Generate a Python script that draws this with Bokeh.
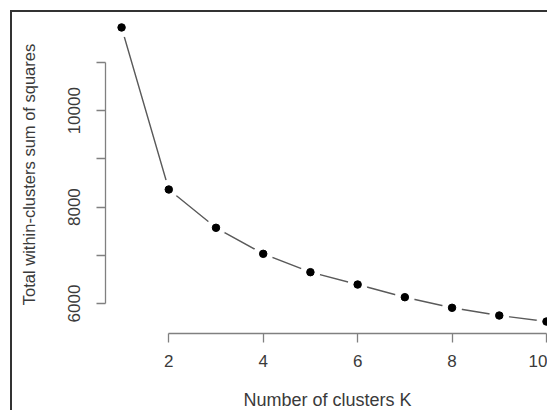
from bokeh.plotting import figure
from bokeh.models import FixedTicker, Range1d
from bokeh.embed import file_html
from bokeh.resources import INLINE

# Data (elbow plot)
k_values = [1, 2, 3, 4, 5, 6, 7, 8, 9, 10]
wss_values = [11727, 8365, 7571, 7031, 6650, 6394, 6131, 5911, 5751, 5626]
x_ticks = [2, 4, 6, 8, 10]
y_ticks = [6000, 7000, 8000, 9000, 10000, 11000]
y_tick_labels = {7000: "", 9000: "", 11000: ""}

x_label = "Number of clusters K"
y_label = "Total within-clusters sum of squares"

FONT = "Liberation Sans"
TEXT_COLOR = "#3a3a3a"
AXIS_COLOR = "#808080"

p = figure(width=537, height=400, output_backend="svg", toolbar_location=None,
           x_range=Range1d(0.6596, 10.064), y_range=Range1d(5378, 11975),
           min_border_left=93, min_border_right=0, min_border_top=3, min_border_bottom=79)
p.margin = (10, 0, 0, 10)
p.styles = {"border-top": "2px solid #333333", "border-left": "2px solid #333333"}

p.outline_line_color = None
p.grid.visible = False
p.background_fill_color = "white"
p.border_fill_color = "white"

# line with gaps at points (R type="b")
p.line(k_values, wss_values, line_color="#5a5a5a", line_width=1.4)
p.scatter(k_values, wss_values, size=19, fill_color="white", line_color="white")
p.scatter(k_values, wss_values, size=7.5, fill_color="black", line_color="black")

for ax in (p.xaxis[0], p.yaxis[0]):
    ax.axis_line_color = AXIS_COLOR
    ax.axis_line_width = 1.3
    ax.major_tick_line_color = AXIS_COLOR
    ax.major_tick_line_width = 1.3
    ax.major_tick_out = 9
    ax.major_tick_in = 0
    ax.minor_tick_line_color = None
    ax.major_label_text_font = FONT
    ax.major_label_text_font_size = "17px"
    ax.major_label_text_color = TEXT_COLOR
    ax.axis_label_text_font = FONT
    ax.axis_label_text_font_style = "normal"
    ax.axis_label_text_color = TEXT_COLOR

p.xaxis.ticker = FixedTicker(ticks=x_ticks)
p.xaxis.bounds = (x_ticks[0], x_ticks[-1])
p.xaxis.axis_label = x_label
p.xaxis.axis_label_text_font_size = "18px"
p.xaxis.major_label_standoff = 12
p.xaxis.axis_label_standoff = 20

p.yaxis.ticker = FixedTicker(ticks=y_ticks)
p.yaxis.bounds = (y_ticks[0], y_ticks[-1])
p.yaxis.major_label_overrides = y_tick_labels
p.yaxis.major_label_orientation = "vertical"
p.yaxis.axis_label = y_label
p.yaxis.axis_label_text_font_size = "16.5px"
p.yaxis.major_label_standoff = 16
p.yaxis.axis_label_standoff = 28

open("out.html", "w").write(file_html(p, INLINE))
